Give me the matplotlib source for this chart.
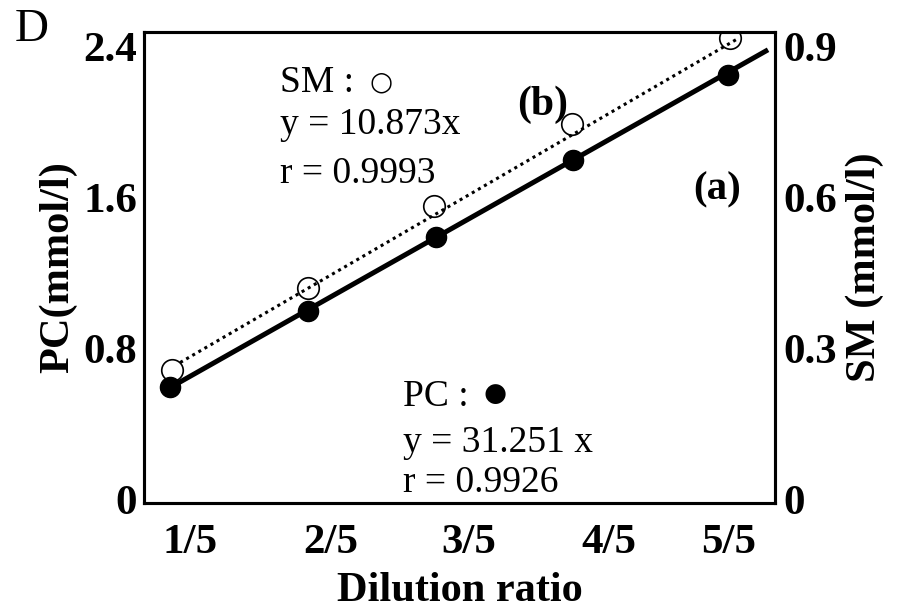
import matplotlib
matplotlib.use("Agg")
import matplotlib.pyplot as plt

plt.rcParams['font.family'] = ['Liberation Serif', 'DejaVu Sans']

# dilution categories and where they sit on the drawn x axis
labels = ["1/5", "2/5", "3/5", "4/5", "5/5"]
label_pos = [1.14, 2.15, 3.14, 4.15, 5.01]

# PC (left axis, mmol/l) - filled circles
pc_x = [1.0, 1.99, 2.91, 3.89, 5.0]
pc_y = [0.596, 0.999, 1.39, 1.80, 2.25]
pc_fit_x = [1.0, 5.29]
pc_fit_y = [0.596, 2.384]

# SM (right axis, mmol/l) - open circles
sm_x = [1.01, 1.99, 2.89, 3.88, 5.02]
sm_y = [0.259, 0.42, 0.584, 0.747, 0.918]
sm_fit_x = [1.07, 5.06]
sm_fit_y = [0.273, 0.914]

fig = plt.figure(figsize=(9.02, 6.10), dpi=100)
ax = fig.add_axes([0.1596, 0.1754, 0.6996, 0.7721])
ax2 = ax.twinx()

ax.set_xlim(0.81, 5.34)
ax.set_ylim(-0.016, 2.478)
ax2.set_ylim(-0.016 * 0.375, 2.478 * 0.375)

# lines
ax.plot(pc_fit_x, pc_fit_y, color="black", lw=3.6, solid_capstyle="butt", zorder=2)
ax2.plot(sm_fit_x, sm_fit_y, color="black", lw=2.2, linestyle=(0, (1, 1.3)), zorder=2)

# points
ax.plot(pc_x, pc_y, "o", color="black", ms=14.5, zorder=3)
ax2.plot(sm_x, sm_y, "o", mfc="none", mec="black", mew=1.2, ms=15.5, zorder=4)

ax.set_xticks(label_pos)
ax.set_xticklabels(labels, fontsize=31, fontweight="bold")
ax.set_yticks([0, 0.8, 1.6, 2.4])
ax.set_yticklabels(["0", "0.8", "1.6", "2.4"], fontsize=31, fontweight="bold")
ax2.set_yticks([0, 0.3, 0.6, 0.9])
ax2.set_yticklabels(["0", "0.3", "0.6", "0.9"], fontsize=31, fontweight="bold")

ax.tick_params(axis="x", length=0, pad=15)
ax.tick_params(axis="y", length=0, pad=5)
ax2.tick_params(axis="y", length=0, pad=6)

for a in (ax, ax2):
    for s in a.spines.values():
        s.set_linewidth(2.2)

ax.set_xlabel("Dilution ratio", fontsize=30.5, fontweight="bold", labelpad=7)
ax.set_ylabel("PC(mmol/l)", fontsize=30.5, fontweight="bold", labelpad=4)
ax2.set_ylabel("SM (mmol/l)", fontsize=30.5, fontweight="bold", labelpad=6)

# annotations
tr = ax.transAxes
ax.text(0.2155, 0.892, "SM :", fontsize=27, va="center", transform=tr)
ax.text(0.376, 0.893, "\u25cb", fontsize=19, family="DejaVu Sans",
        ha="center", va="center", transform=tr)
ax.text(0.2155, 0.8025, "y = 10.873x", fontsize=27, va="center", transform=tr)
ax.text(0.2155, 0.700, "r = 0.9993", fontsize=27, va="center", transform=tr)
ax.text(0.591, 0.845, "(b)", fontsize=30, fontweight="bold", va="center", transform=tr)
ax.text(0.871, 0.665, "(a)", fontsize=29.5, fontweight="bold", va="center", transform=tr)
ax.text(0.410, 0.225, "PC :", fontsize=27, va="center", transform=tr)
ax.text(0.556, 0.231, "\u25cf", fontsize=19, family="DejaVu Sans",
        ha="center", va="center", transform=tr)
ax.text(0.410, 0.127, "y = 31.251 x", fontsize=27, va="center", transform=tr)
ax.text(0.410, 0.042, "r = 0.9926", fontsize=27, va="center", transform=tr)

fig.text(0.016, 0.952, "D", fontsize=34, va="center")

fig.savefig("out.png", dpi=100)
